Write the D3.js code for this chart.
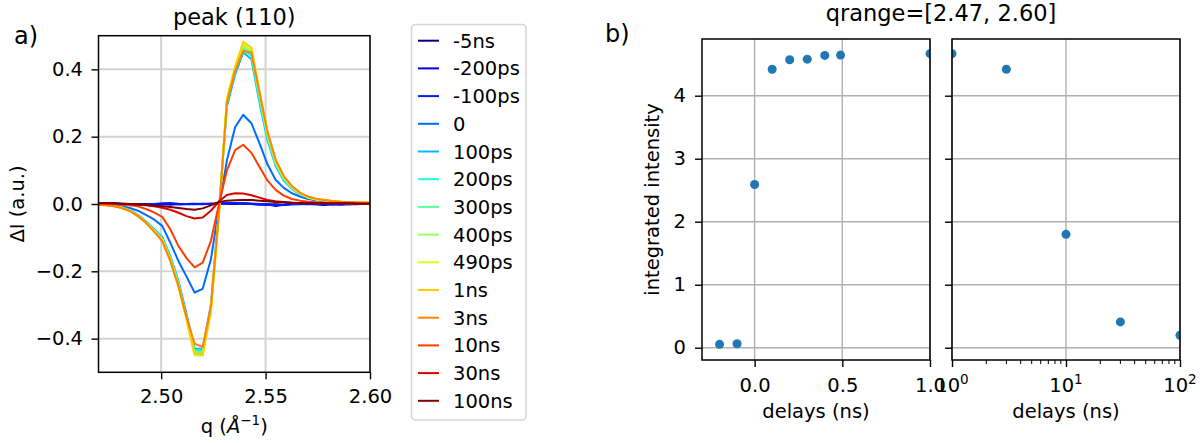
<!DOCTYPE html>
<html><head><meta charset="utf-8">
<script src="https://cdn.jsdelivr.net/npm/d3@7"></script>
<style>
body{margin:0;background:#fff}
svg{display:block}
text{font-family:"DejaVu Sans",sans-serif;fill:#000}
</style>
</head><body>
<svg id="c" width="1203" height="443"></svg>
<script>
// ---------- data: panel a ----------
const qValues = [2.4695,2.4734,2.4773,2.4811,2.4850,2.4889,2.4927,2.4966,2.5005,2.5044,2.5083,2.5121,2.5160,2.5199,2.5238,2.5277,2.5315,2.5354,2.5393,2.5432,2.5471,2.5509,2.5548,2.5587,2.5626,2.5665,2.5703,2.5742,2.5781,2.5820,2.5859,2.5897,2.5936,2.5975,2.6014];
const delayLabels = ["-5ns","-200ps","-100ps","0","100ps","200ps","300ps","400ps","490ps","1ns","3ns","10ns","30ns","100ns"];
const dI_m5ns   = [0.001,0.002,0.002,0.001,0.000,-0.001,0.000,-0.002,-0.001,0.001,-0.001,0.000,0.001,-0.001,0.001,0.002,0.001,0.000,0.002,0.001,-0.001,-0.002,-0.001,-0.003,0.000,0.001,-0.001,0.000,-0.002,0.001,0.000,-0.001,0.001,0.000,0.000];
const dI_m200ps = [0.002,0.001,0.002,0.000,-0.001,0.000,-0.002,-0.001,0.000,-0.002,0.000,-0.001,0.000,0.001,0.000,0.001,0.002,0.002,0.001,0.000,-0.002,-0.001,-0.006,-0.002,-0.001,0.000,0.001,-0.001,-0.003,0.000,-0.002,0.000,-0.001,0.001,0.000];
const dI_m100ps = [0.001,0.002,0.001,0.000,0.000,-0.002,-0.001,0.000,0.002,0.003,0.001,0.000,-0.001,0.000,0.001,0.000,0.002,0.003,0.002,0.001,0.000,-0.001,-0.003,-0.002,0.000,-0.001,0.000,0.001,0.000,-0.002,-0.001,0.000,0.000,0.001,0.000];
const dI_0      = [0.000,-0.002,-0.004,-0.007,-0.012,-0.020,-0.032,-0.046,-0.065,-0.115,-0.170,-0.215,-0.263,-0.252,-0.165,-0.010,0.130,0.228,0.265,0.240,0.180,0.118,0.072,0.048,0.032,0.022,0.015,0.011,0.008,0.006,0.005,0.004,0.003,0.003,0.003];
const dI_100ps  = [-0.001,-0.003,-0.005,-0.010,-0.018,-0.032,-0.051,-0.074,-0.098,-0.155,-0.228,-0.325,-0.430,-0.430,-0.300,-0.018,0.290,0.385,0.450,0.430,0.300,0.190,0.113,0.070,0.045,0.028,0.018,0.013,0.010,0.007,0.006,0.005,0.004,0.004,0.003];
const dI_200ps  = [-0.001,-0.003,-0.006,-0.010,-0.019,-0.033,-0.053,-0.077,-0.102,-0.160,-0.235,-0.335,-0.437,-0.437,-0.308,-0.020,0.300,0.398,0.458,0.440,0.310,0.198,0.118,0.074,0.047,0.030,0.019,0.013,0.010,0.008,0.006,0.005,0.005,0.004,0.004];
const dI_300ps  = [-0.001,-0.003,-0.006,-0.011,-0.020,-0.034,-0.054,-0.078,-0.104,-0.162,-0.238,-0.338,-0.440,-0.440,-0.310,-0.022,0.305,0.400,0.465,0.448,0.318,0.203,0.122,0.076,0.048,0.030,0.020,0.014,0.010,0.008,0.007,0.006,0.005,0.004,0.004];
const dI_400ps  = [-0.001,-0.003,-0.006,-0.011,-0.020,-0.035,-0.055,-0.080,-0.106,-0.165,-0.242,-0.342,-0.445,-0.445,-0.315,-0.025,0.310,0.405,0.472,0.455,0.325,0.208,0.125,0.078,0.050,0.031,0.020,0.014,0.011,0.008,0.007,0.006,0.005,0.004,0.004];
const dI_490ps  = [-0.001,-0.003,-0.006,-0.011,-0.021,-0.036,-0.056,-0.081,-0.108,-0.168,-0.245,-0.345,-0.450,-0.450,-0.318,-0.025,0.315,0.410,0.478,0.460,0.330,0.212,0.128,0.080,0.050,0.032,0.020,0.014,0.011,0.009,0.007,0.006,0.005,0.005,0.004];
const dI_1ns    = [-0.001,-0.003,-0.006,-0.011,-0.020,-0.035,-0.055,-0.080,-0.107,-0.165,-0.240,-0.340,-0.445,-0.448,-0.320,-0.030,0.310,0.405,0.482,0.465,0.335,0.215,0.130,0.082,0.052,0.033,0.021,0.015,0.012,0.009,0.007,0.006,0.005,0.004,0.004];
const dI_3ns    = [-0.002,-0.004,-0.007,-0.012,-0.021,-0.036,-0.056,-0.082,-0.110,-0.170,-0.245,-0.335,-0.415,-0.425,-0.305,-0.020,0.300,0.395,0.455,0.450,0.330,0.215,0.132,0.083,0.053,0.034,0.022,0.016,0.012,0.009,0.007,0.006,0.005,0.004,0.004];
const dI_10ns   = [0.000,0.000,-0.001,-0.002,-0.004,-0.007,-0.015,-0.025,-0.038,-0.075,-0.125,-0.160,-0.188,-0.174,-0.110,0.000,0.100,0.160,0.176,0.152,0.110,0.070,0.042,0.025,0.015,0.010,0.007,0.005,0.004,0.003,0.003,0.002,0.002,0.002,0.002];
const dI_30ns   = [0.002,0.002,0.001,0.000,-0.001,-0.002,-0.004,-0.007,-0.011,-0.017,-0.026,-0.036,-0.043,-0.040,-0.020,0.008,0.027,0.032,0.031,0.026,0.019,0.012,0.008,0.006,0.004,0.003,0.003,0.002,0.002,0.002,0.002,0.002,0.001,0.001,0.001];
const dI_100ns  = [0.003,0.003,0.002,0.001,0.000,-0.001,-0.003,-0.005,-0.007,-0.009,-0.012,-0.015,-0.017,-0.013,-0.004,0.006,0.010,0.011,0.012,0.012,0.010,0.008,0.006,0.005,0.004,0.003,0.002,0.002,0.002,0.002,0.002,0.002,0.001,0.001,0.001];
const qTicks = [2.50, 2.55, 2.60];
const dITicks = [-0.4, -0.2, 0.0, 0.2, 0.4];

// ---------- data: panel b ----------
const delaysNs  = [-0.2, -0.1, 0.0, 0.1, 0.2, 0.3, 0.4, 0.49, 1.0, 3.0, 10.0, 30.0, 100.0];
const intensity = [0.054, 0.063, 2.59, 4.42, 4.57, 4.58, 4.64, 4.645, 4.667, 4.42, 1.80, 0.41, 0.197];
const linTicks = [0.0, 0.5, 1.0];
const logTicks = [1, 10, 100];
const logTickExp = ["0", "1", "2"];
const intTicks = [0, 1, 2, 3, 4];

const seriesValues = [dI_m5ns,dI_m200ps,dI_m100ps,dI_0,dI_100ps,dI_200ps,dI_300ps,dI_400ps,dI_490ps,dI_1ns,dI_3ns,dI_10ns,dI_30ns,dI_100ns];

// jet colormap
function jet(t){
  const interp=(pts)=>{for(let i=0;i<pts.length-1;i++){const [x0,y0]=pts[i],[x1,y1]=pts[i+1];if(t>=x0&&t<=x1)return y0+(y1-y0)*(t-x0)/(x1-x0);}return pts[pts.length-1][1];};
  const r=interp([[0,0],[0.35,0],[0.66,1],[0.89,1],[1,0.5]]);
  const g=interp([[0,0],[0.125,0],[0.375,1],[0.64,1],[0.91,0],[1,0]]);
  const b=interp([[0,0.5],[0.11,1],[0.34,1],[0.65,0],[1,0]]);
  return d3.rgb(r*255,g*255,b*255).formatHex();
}
const colors = delayLabels.map((d,i)=>jet(i/(delayLabels.length-1)));

const svg = d3.select("#c");
const FS = 19.5;

// ================= Panel a =================
const A = {l:98.5, r:370, t:35.7, b:372.3};
const xA = d3.scaleLinear([2.47,2.60],[A.l,A.r]);
const yA = d3.scaleLinear([-0.5,0.5],[A.b,A.t]);

svg.append("clipPath").attr("id","clipA").append("rect")
  .attr("x",A.l).attr("y",A.t).attr("width",A.r-A.l).attr("height",A.b-A.t);

const gA = svg.append("g");
// grid
gA.selectAll(".gx").data(qTicks).join("line")
  .attr("x1",d=>xA(d)).attr("x2",d=>xA(d)).attr("y1",A.t).attr("y2",A.b)
  .attr("stroke","#d3d3d3").attr("stroke-width",2);
gA.selectAll(".gy").data(dITicks).join("line")
  .attr("x1",A.l).attr("x2",A.r).attr("y1",d=>yA(d)).attr("y2",d=>yA(d))
  .attr("stroke","#d3d3d3").attr("stroke-width",2);

const line = d3.line().x((d,i)=>xA(qValues[i])).y(d=>yA(d));
gA.append("g").attr("clip-path","url(#clipA)")
  .selectAll("path").data(seriesValues).join("path")
  .attr("d",d=>line(d)).attr("fill","none")
  .attr("stroke",(d,i)=>colors[i]).attr("stroke-width",2)
  .attr("stroke-linejoin","round");

// axes
const axA_x = gA.append("g").attr("transform",`translate(0,${A.b})`)
  .call(d3.axisBottom(xA).tickValues(qTicks).tickFormat(d3.format(".2f")).tickSize(7).tickPadding(10));
const axA_y = gA.append("g").attr("transform",`translate(${A.l},0)`)
  .call(d3.axisLeft(yA).tickValues(dITicks).tickFormat(d3.format(".1f")).tickSize(7).tickPadding(8.5));
[axA_x,axA_y].forEach(ax=>{
  ax.select(".domain").remove();
  ax.selectAll(".tick line").attr("stroke","#000").attr("stroke-width",1.4);
  ax.selectAll(".tick text").attr("font-size",FS).attr("font-family","DejaVu Sans");
});
gA.append("rect").attr("x",A.l).attr("y",A.t).attr("width",A.r-A.l).attr("height",A.b-A.t)
  .attr("fill","none").attr("stroke","#000").attr("stroke-width",1.5);

svg.append("text").attr("x",(A.l+A.r)/2).attr("y",24.5).attr("text-anchor","middle")
  .attr("font-size",22.5).text("peak (110)");
svg.append("text").attr("x",14).attr("y",44).attr("font-size",24).text("a)");
svg.append("text").attr("transform",`translate(23.5,${(A.t+A.b)/2}) rotate(-90)`)
  .attr("text-anchor","middle").attr("font-size",FS).text("ΔI (a.u.)");
const xl = svg.append("text").attr("x",(A.l+A.r)/2).attr("y",433).attr("text-anchor","middle").attr("font-size",FS);
xl.append("tspan").text("q (");
xl.append("tspan").attr("font-style","italic").text("Å");
xl.append("tspan").attr("font-size",13.5).attr("dy",-8).text("−1");
xl.append("tspan").attr("dy",8).text(")");

// legend
const L = {x:411.5, y:24.5, w:114.5, h:395.5};
const gL = svg.append("g");
gL.append("rect").attr("x",L.x).attr("y",L.y).attr("width",L.w).attr("height",L.h)
  .attr("rx",4).attr("fill","#fff").attr("stroke","#d6d6d6").attr("stroke-width",1.6);
const ent = gL.selectAll("g.e").data(delayLabels).join("g")
  .attr("transform",(d,i)=>`translate(0,${40.7+i*27.7})`);
ent.append("line").attr("x1",418).attr("x2",439).attr("stroke",(d,i)=>colors[i]).attr("stroke-width",2);
ent.append("text").attr("x",453).attr("dy","0.36em").attr("font-size",FS).text(d=>d);

// ================= Panel b =================
const B = {t:39, b:360};
const BL = {l:702, r:930};
const BR = {l:952, r:1180};
const yB = d3.scaleLinear([-0.195,4.9],[B.b,B.t]);
const xBL = d3.scaleLinear([-0.3,1.0],[BL.l,BL.r]);
const xBR = d3.scaleLog([1,100],[BR.l,BR.r]);

function panelB(P, xs, id){
  svg.append("clipPath").attr("id",id).append("rect")
    .attr("x",P.l).attr("y",B.t).attr("width",P.r-P.l).attr("height",B.b-B.t);
  const g = svg.append("g");
  g.selectAll(".gy").data(intTicks).join("line")
    .attr("x1",P.l).attr("x2",P.r).attr("y1",d=>yB(d)).attr("y2",d=>yB(d))
    .attr("stroke","#b0b0b0").attr("stroke-width",1.4);
  return g;
}
const gBL = panelB(BL, xBL, "clipBL");
gBL.selectAll(".gx").data(linTicks).join("line")
  .attr("x1",d=>xBL(d)).attr("x2",d=>xBL(d)).attr("y1",B.t).attr("y2",B.b)
  .attr("stroke","#b0b0b0").attr("stroke-width",1.4);
gBL.append("g").attr("clip-path","url(#clipBL)").selectAll("circle")
  .data(delaysNs.map((d,i)=>[d,intensity[i]])).join("circle")
  .attr("cx",d=>xBL(d[0])).attr("cy",d=>yB(d[1])).attr("r",4.5).attr("fill","#1f77b4");
const axBLx = gBL.append("g").attr("transform",`translate(0,${B.b})`)
  .call(d3.axisBottom(xBL).tickValues(linTicks).tickFormat(d3.format(".1f")).tickSize(7).tickPadding(10.9));
const axBLy = gBL.append("g").attr("transform",`translate(${BL.l},0)`)
  .call(d3.axisLeft(yB).tickValues(intTicks).tickFormat(d3.format("d")).tickSize(7).tickPadding(9));
gBL.append("rect").attr("x",BL.l).attr("y",B.t).attr("width",BL.r-BL.l).attr("height",B.b-B.t)
  .attr("fill","none").attr("stroke","#000").attr("stroke-width",1.5);

const gBR = panelB(BR, xBR, "clipBR");
gBR.selectAll(".gx").data(logTicks).join("line")
  .attr("x1",d=>xBR(d)).attr("x2",d=>xBR(d)).attr("y1",B.t).attr("y2",B.b)
  .attr("stroke","#b0b0b0").attr("stroke-width",1.4);
gBR.append("g").attr("clip-path","url(#clipBR)").selectAll("circle")
  .data(delaysNs.map((d,i)=>[d,intensity[i]]).filter(d=>d[0]>0)).join("circle")
  .attr("cx",d=>xBR(d[0])).attr("cy",d=>yB(d[1])).attr("r",4.5).attr("fill","#1f77b4");
const minorTicks = xBR.ticks().filter(t=>!logTicks.includes(t));
const axBRx = gBR.append("g").attr("transform",`translate(0,${B.b})`)
  .call(d3.axisBottom(xBR).tickValues(logTicks).tickFormat("").tickSize(7));
gBR.append("g").selectAll("line").data(minorTicks).join("line")
  .attr("x1",d=>xBR(d)).attr("x2",d=>xBR(d)).attr("y1",B.b).attr("y2",B.b+4)
  .attr("stroke","#000").attr("stroke-width",1);
const axBRy = gBR.append("g").attr("transform",`translate(${BR.l},0)`)
  .call(d3.axisLeft(yB).tickValues(intTicks).tickFormat("").tickSize(7));
gBR.append("rect").attr("x",BR.l).attr("y",B.t).attr("width",BR.r-BR.l).attr("height",B.b-B.t)
  .attr("fill","none").attr("stroke","#000").attr("stroke-width",1.5);
// log tick labels with superscripts
logTicks.forEach((t,i)=>{
  const tx = svg.append("text").attr("x",xBR(t)).attr("y",391.7).attr("text-anchor","middle").attr("font-size",FS);
  tx.append("tspan").text("10");
  tx.append("tspan").attr("font-size",13.5).attr("dy",-8).text(logTickExp[i]);
});
[axBLx,axBLy,axBRx,axBRy].forEach(ax=>{
  ax.select(".domain").remove();
  ax.selectAll(".tick line").attr("stroke","#000").attr("stroke-width",1.4);
  ax.selectAll(".tick text").attr("font-size",FS).attr("font-family","DejaVu Sans");
});

svg.append("text").attr("x",(BL.l+BR.r)/2).attr("y",21).attr("text-anchor","middle")
  .attr("font-size",22.5).text("qrange=[2.47, 2.60]");
svg.append("text").attr("x",605).attr("y",42).attr("font-size",24).text("b)");
svg.append("text").attr("transform",`translate(659,${(B.t+B.b)/2}) rotate(-90)`)
  .attr("text-anchor","middle").attr("font-size",FS).text("integrated intensity");
svg.append("text").attr("x",(BL.l+BL.r)/2).attr("y",418).attr("text-anchor","middle").attr("font-size",FS).text("delays (ns)");
svg.append("text").attr("x",(BR.l+BR.r)/2).attr("y",418).attr("text-anchor","middle").attr("font-size",FS).text("delays (ns)");
</script>
</body></html>
